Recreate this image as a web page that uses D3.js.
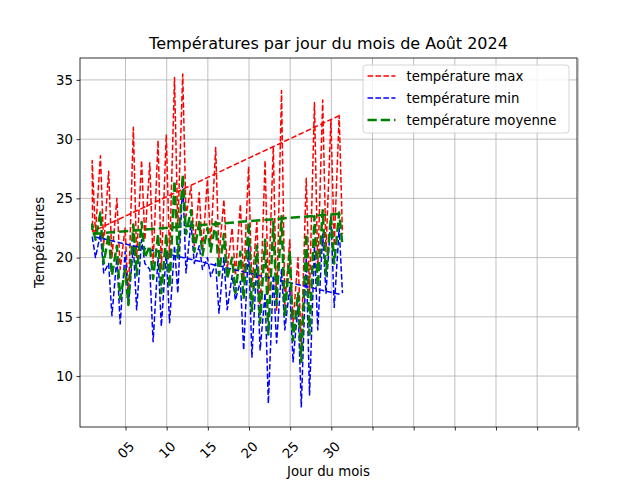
<!DOCTYPE html>
<html><head><meta charset="utf-8">
<script src="https://cdn.jsdelivr.net/npm/d3@7"></script>
<style>body{margin:0;background:#fff}svg{display:block}text{font-family:"DejaVu Sans",sans-serif}</style>
</head><body><svg id="c" width="640" height="480"></svg>
<script>
const days = [1,2,3,4,5,6,7,8,9,10,11,12,13,14,15,16,17,18,19,20,21,22,23,24,25,26,27,28,29,30,31];
const maxHi = [28.2,28.6,27.3,25.0,22.5,31.0,28.2,28.0,29.9,30.4,35.2,35.5,26.0,25.5,26.6,29.3,24.9,22.5,24.5,27.7,23.0,28.2,29.4,34.1,21.5,20.0,26.7,33.1,33.3,31.6,32.0];
const maxLo = [22.0,21.0,20.0,19.0,16.5,20.0,21.5,19.5,19.0,20.0,22.5,23.5,21.0,20.5,21.0,20.0,19.0,18.5,18.0,17.5,15.4,17.0,15.5,16.0,14.5,12.5,17.0,19.0,20.5,21.0,22.0];
const minHi = [21.8,22.0,19.5,20.0,20.5,21.0,21.5,19.0,20.0,20.5,21.0,26.5,23.0,21.0,20.0,19.5,20.0,18.5,18.0,21.0,19.5,17.0,18.5,19.0,17.5,16.0,20.0,21.0,22.0,23.5,22.5];
const minLo = [20.0,18.7,15.1,14.4,16.0,15.6,19.5,12.9,14.2,14.5,17.0,18.7,19.5,19.0,18.4,15.3,15.6,16.4,12.2,11.6,12.2,7.7,12.8,13.9,11.2,7.4,8.4,13.9,17.0,15.8,17.0];
const moyHi = [22.8,23.8,22.0,21.0,19.0,22.8,23.0,21.0,22.0,22.0,26.5,27.0,24.0,23.0,22.5,23.0,22.0,20.0,20.5,23.0,21.0,21.5,23.0,23.5,20.5,17.0,22.0,23.5,24.0,23.5,23.8];
const moyLo = [21.5,19.5,18.5,16.5,16.0,18.5,20.0,18.2,17.0,17.5,20.0,22.0,20.5,20.2,20.5,18.5,18.2,17.0,16.5,15.5,14.5,13.5,16.0,15.0,13.0,11.2,13.5,17.5,18.5,19.5,21.0];
// wrap-around segment (day 31 -> day 1) at the start of each series
const maxWrap = [32.0, 22.2];
const minWrap = [16.9, 21.8];
const moyWrap = [23.7, 22.0];
const xTicks = [5,10,15,20,25,30,35,40,45,50,55,60];
const xTickLabels = ["05","10","15","20","25","30","","","","","",""];
const yTicks = [10,15,20,25,30,35];
const seriesNames = ["température max","température min","température moyenne"];
const seriesColors = ["#ff0000","#0000ff","#008000"];

const L=80,R=577,T=58,B=427;
const svg=d3.select("#c");
const x=d3.scaleLinear().domain([-0.53,59.84]).range([L,R]);
const y=d3.scaleLinear().domain([5.7,36.85]).range([B,T]);

// grid
const g=svg.append("g");
g.selectAll(".gx").data(xTicks).join("line").attr("x1",d=>x(d)).attr("x2",d=>x(d)).attr("y1",T).attr("y2",B).attr("stroke","#b0b0b0").attr("stroke-width",0.8);
g.selectAll(".gy").data(yTicks).join("line").attr("x1",L).attr("x2",R).attr("y1",d=>y(d)).attr("y2",d=>y(d)).attr("stroke","#b0b0b0").attr("stroke-width",0.8);

svg.append("clipPath").attr("id","clip").append("rect").attr("x",L).attr("y",T).attr("width",R-L).attr("height",B-T);

function pts(wrap,hi,lo){
  const p=[[31,wrap[0]],[1,wrap[1]]];
  days.forEach((d,i)=>{p.push([d-0.05,hi[i]]);p.push([d+0.35,lo[i]]);});
  return p;
}
const line=d3.line().x(d=>x(d[0])).y(d=>y(d[1]));
const series=[
  {p:pts(maxWrap,maxHi,maxLo),c:seriesColors[0],w:1.5},
  {p:pts(minWrap,minHi,minLo),c:seriesColors[1],w:1.5},
  {p:pts(moyWrap,moyHi,moyLo),c:seriesColors[2],w:2.5}
];
const pl=svg.append("g").attr("clip-path","url(#clip)");
series.forEach(s=>{
  pl.append("path").attr("d",line(s.p)).attr("fill","none").attr("stroke",s.c).attr("stroke-width",s.w)
    .attr("stroke-dasharray",`${3.7*s.w},${1.6*s.w}`).attr("stroke-linejoin","round");
});

// axes
const ax=svg.append("g").attr("transform",`translate(0,${B})`).call(d3.axisBottom(x).tickValues(xTicks).tickFormat((d,i)=>xTickLabels[i]).tickSizeOuter(0).tickSize(3.5));
ax.select(".domain").remove();
ax.selectAll("line").attr("stroke","#000").attr("stroke-width",0.8);
ax.selectAll("text").attr("font-size","13.3px").attr("fill","#000").attr("text-anchor","middle").attr("dy",null).attr("y",null)
  .attr("dominant-baseline","central").attr("transform","translate(0,23) rotate(-45)");
const ay=svg.append("g").attr("transform",`translate(${L},0)`).call(d3.axisLeft(y).tickValues(yTicks).tickFormat(d3.format("d")).tickSizeOuter(0).tickSize(3.5));
ay.select(".domain").remove();
ay.selectAll("line").attr("stroke","#000").attr("stroke-width",0.8);
ay.selectAll("text").attr("font-size","13.3px").attr("fill","#000").attr("x",-7);

svg.append("rect").attr("x",L).attr("y",T).attr("width",R-L).attr("height",B-T).attr("fill","none").attr("stroke","#000").attr("stroke-width",0.8);

svg.append("text").attr("x",(L+R)/2).attr("y",49).attr("text-anchor","middle").attr("font-size","16px").text("Températures par jour du mois de Août 2024");
svg.append("text").attr("x",(L+R)/2).attr("y",476).attr("text-anchor","middle").attr("font-size","13.3px").text("Jour du mois");
svg.append("text").attr("transform",`translate(44,${(T+B)/2}) rotate(-90)`).attr("text-anchor","middle").attr("font-size","13.3px").text("Températures");

// legend
const lg=svg.append("g");
lg.append("rect").attr("x",363).attr("y",65).attr("width",206).attr("height",68).attr("rx",3).attr("fill","#fff").attr("fill-opacity",0.8).attr("stroke","#cccccc").attr("stroke-width",0.8);
seriesNames.forEach((n,i)=>{
  const yy=76+i*22;
  const w=series[i].w;
  lg.append("line").attr("x1",367.5).attr("x2",395.5).attr("y1",yy).attr("y2",yy).attr("stroke",seriesColors[i]).attr("stroke-width",w).attr("stroke-dasharray",`${3.7*w},${1.6*w}`);
  lg.append("text").attr("x",406.5).attr("y",yy).attr("dominant-baseline","central").attr("font-size","13.3px").text(n);
});
</script></body></html>
